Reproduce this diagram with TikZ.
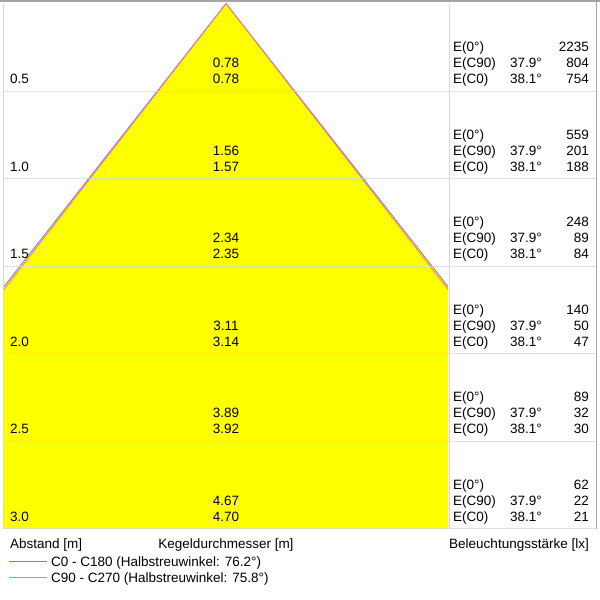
\documentclass[tikz,border=0pt]{standalone}
\usepackage{fontspec}
\setmainfont{Liberation Sans}

\definecolor{gridline}{RGB}{215,215,215}
\definecolor{frameline}{RGB}{165,165,165}
\definecolor{conefill}{RGB}{255,255,0}
\definecolor{czero}{RGB}{120,120,255}
\definecolor{cninety}{RGB}{255,120,120}

\tikzset{
  txt/.style={inner sep=0pt, font=\fontsize{13.5}{16}\selectfont},
  lefttxt/.style={txt, anchor=base west},
  righttxt/.style={txt, anchor=base east},
  midtxt/.style={txt, anchor=base},
}

\begin{document}
\begin{tikzpicture}[x=1pt,y=-1pt]
  \useasboundingbox[fill=white] (0,0) rectangle (600,600);

  % cone (clipped to the chart area)
  \coordinate (apex) at (226,3.5);
  \coordinate (czl) at (-185.8,528.5);
  \coordinate (czr) at (637.8,528.5);
  \coordinate (cnl) at (-181.7,528.5);
  \coordinate (cnr) at (633.7,528.5);
  \begin{scope}
    \clip (3,3.5) rectangle (448,528.5);
    \fill[conefill] (apex) -- (czl) -- (czr) -- cycle;
    \draw[czero, line width=0.8pt] (czl) -- (apex) -- (czr);
    \draw[cninety, line width=0.8pt] (cnl) -- (apex) -- (cnr);
  \end{scope}

  % grid and frame
  \foreach \k in {1,...,6}
    \draw[gridline, opacity=0.7] (3,{3.5+87.5*\k}) -- (596,{3.5+87.5*\k});
  \draw[gridline] (449,3.5) -- (449,528.5);
  \draw[gridline] (3,3.5) -- (3,528.5);
  \draw[frameline] (596,2) -- (596,528.5);
  \draw[frameline, line width=1.5pt] (0,1) -- (600,1);

  % rows: distance, cone diameters, illuminance
  \foreach \k/\d/\va/\vb/\ez/\en/\ec in {1/0.5/0.78/0.78/2235/804/754,
      2/1.0/1.56/1.57/559/201/188, 3/1.5/2.34/2.35/248/89/84,
      4/2.0/3.11/3.14/140/50/47, 5/2.5/3.89/3.92/89/32/30,
      6/3.0/4.67/4.70/62/22/21} {
    \pgfmathsetmacro\yb{3.5+87.5*\k}
    \node[lefttxt] (dist\k) at (10,{\yb-7.5}) {\d};
    \node[midtxt] (dia\k a) at (226,{\yb-23.5}) {\va};
    \node[midtxt] (dia\k b) at (226,{\yb-7.5}) {\vb};
    \node[lefttxt] (ez\k) at (453,{\yb-39.5}) {E(0°)};
    \node[lefttxt] (en\k) at (453,{\yb-23.5}) {E(C90)};
    \node[lefttxt] (ec\k) at (453,{\yb-7.5}) {E(C0)};
    \node[lefttxt] (an\k) at (510,{\yb-23.5}) {37.9°};
    \node[lefttxt] (ac\k) at (510,{\yb-7.5}) {38.1°};
    \node[righttxt] (vz\k) at (589,{\yb-39.5}) {\ez};
    \node[righttxt] (vn\k) at (589,{\yb-23.5}) {\en};
    \node[righttxt] (vc\k) at (589,{\yb-7.5}) {\ec};
  }

  % axis captions
  \node[lefttxt] (abstand) at (10,548) {Abstand [m]};
  \node[midtxt] (kegel) at (226,548) {Kegeldurchmesser [m]};
  \node[righttxt] (lux) at (589,548) {Beleuchtungsstärke [lx]};

  % legend
  \node[lefttxt] (leg0) at (51,566) {C0 - C180 (Halbstreuwinkel: 76.2°)};
  \node[lefttxt] (leg90) at (51,582) {C90 - C270 (Halbstreuwinkel: 75.8°)};
  \coordinate (lz) at (9,561.5);
  \coordinate (ln) at (9,577.5);
  \draw[czero] (lz) -- ([xshift=-4pt]lz -| leg0.west);
  \draw[cninety] (ln) -- ([xshift=-4pt]ln -| leg90.west);
\end{tikzpicture}
\end{document}
